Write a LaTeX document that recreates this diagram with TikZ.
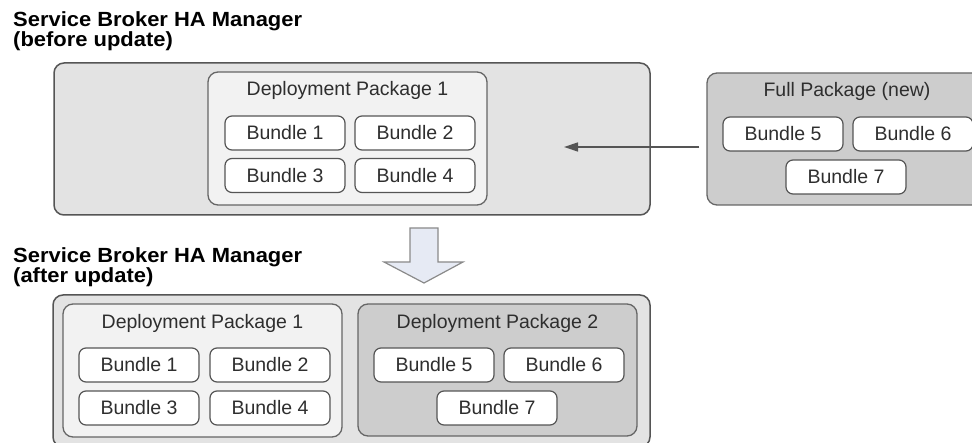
\documentclass[tikz,border=0pt]{standalone}
\usepackage{fontspec}
\setmainfont{Liberation Sans}
\newfontfamily\headfont[FakeStretch=1.07]{Liberation Sans}
\usetikzlibrary{arrows.meta}

\definecolor{edge}{HTML}{555555}
\definecolor{mgrfill}{HTML}{E3E3E3}
\definecolor{lightpkg}{HTML}{F2F2F2}
\definecolor{darkpkg}{HTML}{CDCDCD}
\definecolor{blockfill}{HTML}{E6EAF4}
\definecolor{blockedge}{HTML}{8A8A8A}
\definecolor{labeltext}{HTML}{2E2E2E}

\tikzset{
  manager/.style={draw=edge, fill=mgrfill, line width=1.5pt, rounded corners=10pt,
    inner sep=0pt},
  pkglight/.style={draw=edge!90, fill=lightpkg, line width=1.3pt, rounded corners=10pt,
    inner sep=0pt, minimum width=279pt},
  pkgdark/.style={draw=edge!90, fill=darkpkg, line width=1.3pt, rounded corners=10pt,
    inner sep=0pt},
  bundle/.style={draw=edge, fill=white, line width=1.2pt, rounded corners=7pt,
    minimum width=120pt, minimum height=34pt, inner sep=0pt,
    text=labeltext, font=\fontsize{19.5}{22}\selectfont,
    text height=14pt, text depth=0pt},
  pkgtitle/.style={anchor=base, inner sep=0pt, text=labeltext,
    font=\fontsize{19.5}{22}\selectfont},
  % two-line heading; the base anchor sits on the last line
  heading/.style={anchor=base west, inner sep=0pt, align=left,
    font={\headfont\bfseries\fontsize{20.5}{20}\selectfont\lineskiplimit=-50pt}},
  feed/.style={draw=edge, line width=1.4pt, -{Triangle[length=14pt,width=9pt]}},
  blockarrow/.style={draw=blockedge, fill=blockfill, line width=1.2pt, line join=miter}
}

\begin{document}
\begin{tikzpicture}[x=1pt, y=-1pt]
\useasboundingbox (0,0) rectangle (972,443);
\begin{scope}
\clip (0,0) rectangle (972,443);

% ---- before the update ----
\node[heading] (headA) at (13,47) {Service Broker HA Manager\\(before update)};

\node[manager, minimum width=596pt, minimum height=152pt] (mgrA) at (352,139) {};
\node[pkglight, minimum height=133pt] (dpA) at (347.5,138.5) {};
\node[pkgtitle] (dpAtitle) at (347.5,96) {Deployment Package 1};
\node[bundle] (a1) at (285,133) {Bundle 1};
\node[bundle] (a2) at (415,133) {Bundle 2};
\node[bundle] (a3) at (285,175.5) {Bundle 3};
\node[bundle] (a4) at (415,175.5) {Bundle 4};

% the incoming full package
\node[pkgdark, minimum width=280pt, minimum height=132pt] (full) at (847,139) {};
\node[pkgtitle] (fulltitle) at (847,97) {Full Package (new)};
\node[bundle] (f5) at (783,134) {Bundle 5};
\node[bundle] (f6) at (913,134) {Bundle 6};
\node[bundle] (f7) at (846,177) {Bundle 7};

\coordinate (drop) at (564,147);
\draw[feed, shorten <=7pt] (full.west |- drop) -- (drop);

% ---- transition ----
\path[blockarrow] (410,228) -- (438,228) -- (438,262) -- (463,262) -- (424,283)
  -- (384,262) -- (410,262) -- cycle;

% ---- after the update ----
\node[heading] (headB) at (13,283) {Service Broker HA Manager\\(after update)};

\node[manager, minimum width=597pt, minimum height=152pt] (mgrB) at (351.5,371) {};
\node[pkglight, minimum height=133pt] (dpB1) at (202.5,370.5) {};
\node[pkgtitle] (dpB1title) at (202.5,329) {Deployment Package 1};
\node[bundle] (b1) at (139,365) {Bundle 1};
\node[bundle] (b2) at (270,365) {Bundle 2};
\node[bundle] (b3) at (139,408) {Bundle 3};
\node[bundle] (b4) at (270,408) {Bundle 4};

\node[pkgdark, minimum width=279pt, minimum height=132pt] (dpB2) at (497.5,370) {};
\node[pkgtitle] (dpB2title) at (497.5,329) {Deployment Package 2};
\node[bundle] (b5) at (434,365) {Bundle 5};
\node[bundle] (b6) at (564,365) {Bundle 6};
\node[bundle] (b7) at (497,408) {Bundle 7};
\end{scope}
\end{tikzpicture}
\end{document}
